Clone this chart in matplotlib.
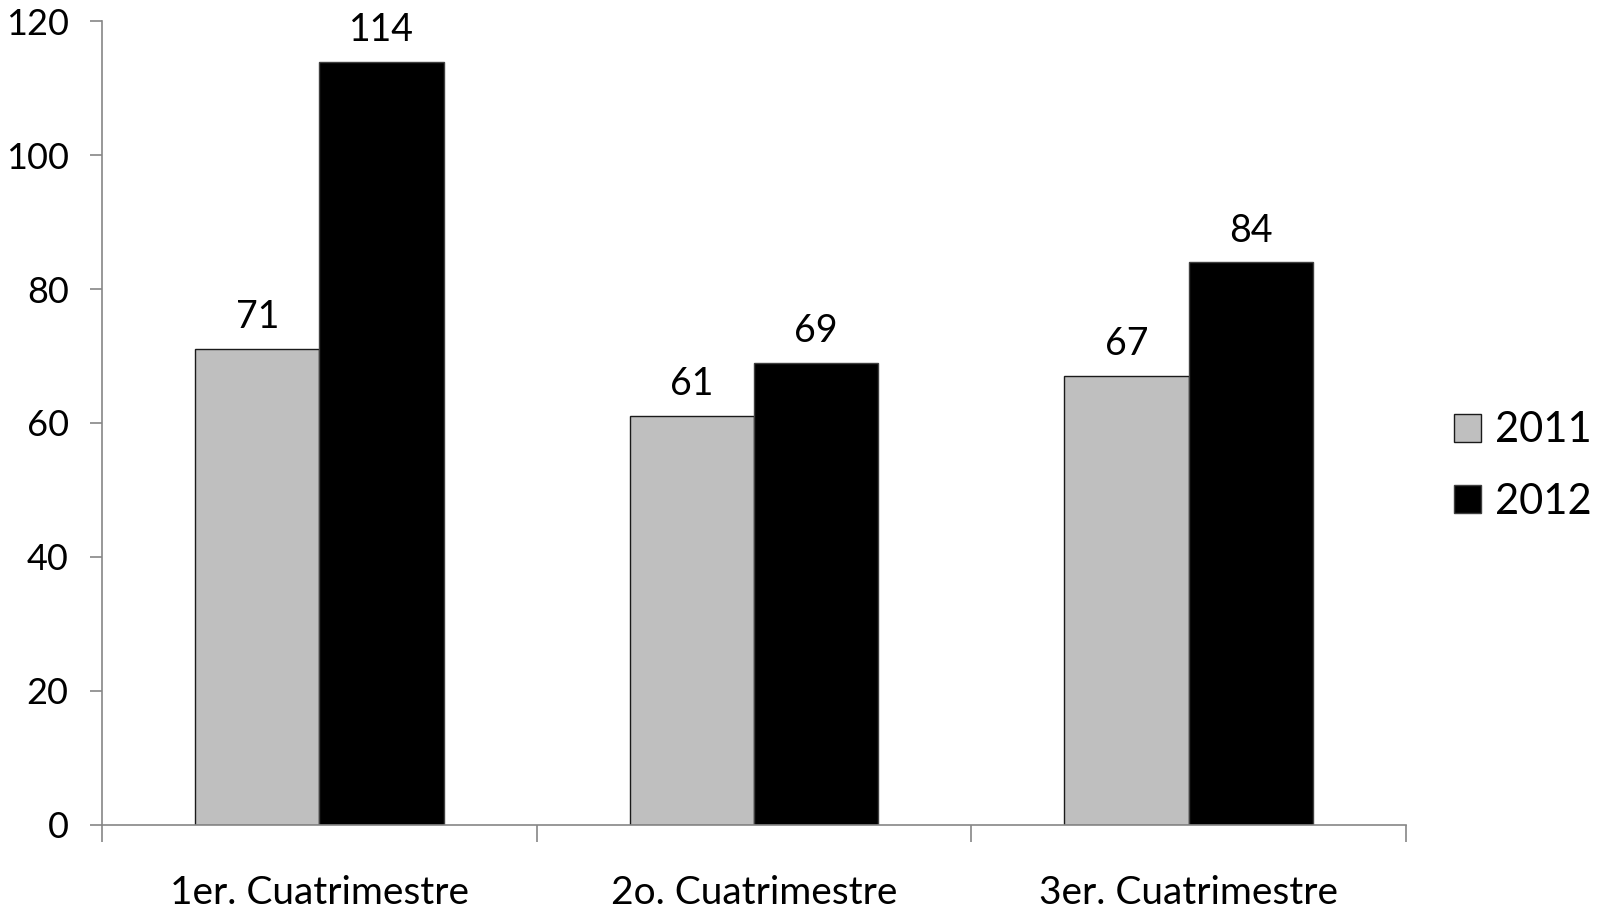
import matplotlib
matplotlib.use("Agg")
import matplotlib.pyplot as plt
import numpy as np

categories = ["1er. Cuatrimestre", "2o. Cuatrimestre", "3er. Cuatrimestre"]
series_names = ["2011", "2012"]
values_2011 = [71, 61, 67]
values_2012 = [114, 69, 84]
yticks = [0, 20, 40, 60, 80, 100, 120]

plt.rcParams['font.family'] = ['Lato', 'DejaVu Sans']

fig = plt.figure(figsize=(16.02, 9.14), dpi=100)
ax = fig.add_axes([0.0637, 0.0979, 0.8140, 0.8786])

x = np.arange(len(categories))
w = 0.286
b1 = ax.bar(x - w/2, values_2011, w, color="#BFBFBF", edgecolor="#1a1a1a", linewidth=1.0, label=series_names[0])
b2 = ax.bar(x + w/2, values_2012, w, color="#000000", edgecolor="#404040", linewidth=1.0, label=series_names[1])

for bars, vals in ((b1, values_2011), (b2, values_2012)):
    for r, v in zip(bars, vals):
        ax.annotate(str(v), (r.get_x() + r.get_width()/2, v), xytext=(0, 10),
                    textcoords="offset points", ha="center", va="bottom", fontsize=27)

ax.set_xlim(-0.5, 2.5)
ax.set_ylim(0, 120)
ax.set_yticks(yticks)
ax.set_yticklabels([str(t) for t in yticks], fontsize=26)
ax.set_xticks([-0.5, 0.5, 1.5, 2.5])
ax.set_xticklabels([])
ax.set_xticks(x, minor=True)
ax.set_xticklabels(categories, minor=True, fontsize=28)
ax.tick_params(axis='x', which='minor', length=0, pad=36)
ax.tick_params(axis='x', which='major', length=12, width=1.2, color="#868686", direction='out')
ax.tick_params(axis='y', length=9, width=1.2, color="#868686", pad=15)

for s in ("top", "right"):
    ax.spines[s].set_visible(False)
for s in ("left", "bottom"):
    ax.spines[s].set_color("#868686")
    ax.spines[s].set_linewidth(1.2)

leg = fig.legend(handles=[b1, b2], labels=series_names, loc="center left",
                 bbox_to_anchor=(0.884, 0.49), frameon=False, fontsize=30,
                 handlelength=0.65, handleheight=0.65, handletextpad=0.34, labelspacing=0.8)

fig.savefig("out.png", dpi=100)
